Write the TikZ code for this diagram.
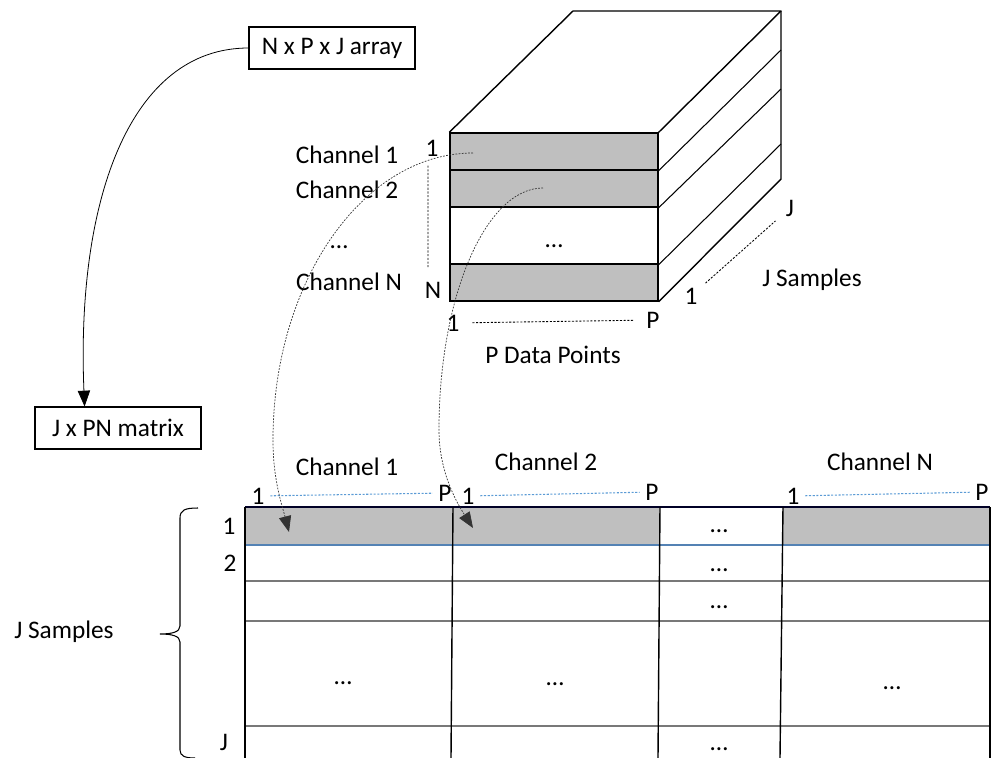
\documentclass[tikz,border=0pt]{standalone}
\usepackage{fontspec}
\setmainfont{Carlito}
\usepackage{tikz}
\usetikzlibrary{arrows.meta,positioning,calc}

\definecolor{slabgray}{RGB}{191,191,191}
\definecolor{rowblue}{RGB}{84,130,180}
\definecolor{idxblue}{RGB}{91,155,213}
\definecolor{rowgray}{RGB}{120,120,120}

\begin{document}
\begin{tikzpicture}[x=0.02cm, y=-0.02cm,
    font=\fontsize{14.4pt}{17pt}\selectfont,
    box/.style={draw, line width=0.6pt, minimum width=3.32cm, minimum height=0.84cm, inner sep=0pt},
    slab/.style={draw, line width=0.8pt, minimum width=4.16cm, inner sep=0pt},
    slabfill/.style={fill=slabgray},
    arr/.style={-{Triangle[length=9pt,width=7pt]}, line width=0.45pt},
    link/.style={-{Triangle[length=9pt,width=7pt]}, line width=0.4pt, black!80, dash pattern=on 1pt off 0.8pt},
    guide/.style={line width=0.5pt, dash pattern=on 1.2pt off 0.9pt, shorten <=11pt, shorten >=11pt},
    idx/.style={line width=0.6pt, idxblue, dash pattern=on 1.2pt off 0.9pt, shorten <=7pt, shorten >=7pt},
    lbl/.style={inner sep=2pt},
    dotlbl/.style={inner sep=2pt, yshift=-0.09cm}
]
\useasboundingbox (0,0) rectangle (992,758);

% the two captions
\node[box] (nxpxj) at (332,48) {N x P x J array};
\node[box] (jxpn) at (118,428) {J x PN matrix};
\draw[arr] (nxpxj.west) .. controls (130,48) and (76,200) .. ($(jxpn.north west)!0.3!(jxpn.north east)$);

% the N x P x J block
\node[slab, slabfill, minimum height=0.74cm] (ch1) at (554,151.5) {};
\node[slab, slabfill, minimum height=0.74cm] (ch2) at (554,188.5) {};
\node[slab, minimum height=1.14cm] (chx) at (554,235.5) {};
\node[slab, slabfill, minimum height=0.74cm] (chn) at (554,282.5) {};
\node[dotlbl] (chxdots) at (554,242) {…};
\draw[line width=0.8pt, line join=round] (ch1.north west) -- (573,11) -- (781,11) -- (ch1.north east);
\draw[line width=0.8pt, line join=round] (781,11) -- (781,179) -- (chn.south east);
\draw[line width=0.6pt] (ch1.south east) -- (781,50);
\draw[line width=0.6pt] (ch2.south east) -- (781,89);
\draw[line width=0.6pt] (chx.south east) -- (781,144);

\node[lbl] (lch1) at (347,155) {Channel 1};
\node[lbl] (lch2) at (347,190) {Channel 2};
\node[dotlbl] (lchx) at (339,243) {…};
\node[lbl] (lchn) at (349,282) {Channel N};

\node[lbl] (n1) at (432,148) {1};
\node[lbl] (nN) at (433,290) {N};
\draw[guide, shorten <=10pt, shorten >=13pt] ([xshift=-0.08cm]n1.center) -- ([xshift=-0.1cm]nN.center);
\node[lbl] (p1) at (453,323) {1};
\node[lbl] (pP) at (653,320) {P};
\draw[guide] (p1.center) -- (pP.center);
\node[lbl] (pts) at (553,355) {P Data Points};
\node[lbl] (j1) at (691,296) {1};
\node[lbl] (jJ) at (790,208) {J};
\draw[guide] (j1.center) -- (jJ.center);
\node[lbl] (jsmp) at (812,280) {J Samples};

% the J x PN matrix
\fill[slabgray] (245,507) rectangle (660,545);
\fill[slabgray] (783,507) rectangle (990,545);
\draw[line width=0.9pt, black!85!blue] (245,507) -- (990,507);
\draw[line width=0.9pt, rowblue] (245,545) -- (990,545);
\draw[line width=0.9pt, rowgray] (245,581) -- (990,581);
\draw[line width=0.9pt, rowgray] (245,621) -- (990,621);
\draw[line width=0.9pt, rowgray] (245,726) -- (990,726);
\draw[line width=0.8pt] (245,507) -- (245,758);
\draw[line width=0.8pt] (453,507) -- (451,758);
\draw[line width=0.8pt] (660,507) -- (658,758);
\draw[line width=0.8pt] (783,507) -- (780,758);
\draw[line width=0.8pt] (990,507) -- (990,758);

\node[dotlbl] (d1) at (719,527) {…};
\node[dotlbl] (d2) at (719,566) {…};
\node[dotlbl] (d3) at (719,603) {…};
\node[dotlbl] (d4a) at (343,679) {…};
\node[dotlbl] (d4b) at (555,680) {…};
\node[dotlbl] (d4c) at (892,684) {…};
\node[dotlbl] (d5) at (719,745) {…};

\node[lbl] (hc1) at (347,467) {Channel 1};
\node[lbl] (hc2) at (546,462) {Channel 2};
\node[lbl] (hcn) at (880,462) {Channel N};
\node[lbl] (a1) at (258,496) {1};
\node[lbl] (aP) at (445,493) {P};
\node[lbl] (b1) at (468,496) {1};
\node[lbl] (bP) at (652,492) {P};
\node[lbl] (c1) at (793,496) {1};
\node[lbl] (cP) at (982,492) {P};
\draw[idx] (a1.center) -- (aP.center);
\draw[idx] (b1.center) -- (bP.center);
\draw[idx] (c1.center) -- (cP.center);

\node[lbl] (r1) at (229,526) {1};
\node[lbl] (r2) at (230,563) {2};
\node[lbl] (rJ) at (224,742) {J};
\draw[line width=0.6pt] (198,508) .. controls (185,508) and (180,510) .. (180,518) -- (180,626)
  .. controls (180,632) and (172,634) .. (160,634) .. controls (172,634) and (180,636) .. (180,642)
  -- (180,750) .. controls (180,756) and (185,758) .. (195,758);
\node[lbl] (rsmp) at (64,632) {J Samples};

% slices to matrix
\coordinate (src1) at (473,153);
\coordinate (src2) at (543,188);
\coordinate (dst1) at (289,532);
\coordinate (dst2) at (473,528);
\draw[link] (src1) .. controls (363,153) and (273,282) .. (273,440) .. controls (273,480) and (282,505) .. (dst1);
\draw[link] (src2) .. controls (486,188) and (439,296) .. (439,430) .. controls (439,470) and (455,500) .. (dst2);
\end{tikzpicture}
\end{document}
